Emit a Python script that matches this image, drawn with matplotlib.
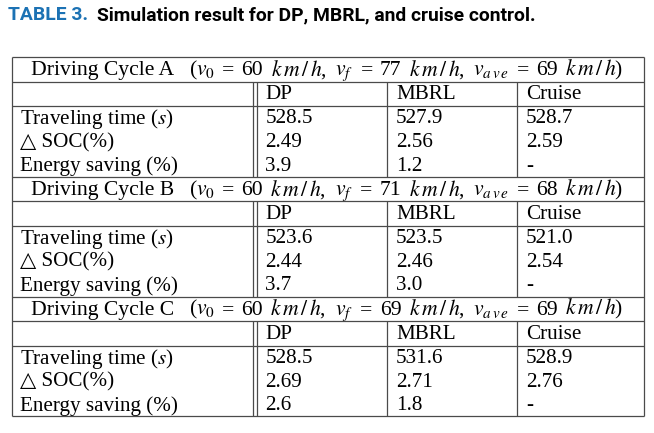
import matplotlib
matplotlib.use("Agg")
import matplotlib.pyplot as plt

plt.rcParams['mathtext.fontset'] = 'stix'
plt.rcParams['font.family'] = ['Liberation Serif', 'DejaVu Sans']

# ---- data ----
cycles = ['A', 'B', 'C']
v0 = [60, 60, 60]
vf = [77, 71, 69]
vave = [69, 68, 69]
methods = ['DP', 'MBRL', 'Cruise']
row_labels = ['Traveling time ($s$)', '\u25B3 SOC(%)', 'Energy saving (%)']
travel_time = [['528.5', '527.9', '528.7'],
               ['523.6', '523.5', '521.0'],
               ['528.5', '531.6', '528.9']]
delta_soc = [['2.49', '2.56', '2.59'],
             ['2.44', '2.46', '2.54'],
             ['2.69', '2.71', '2.76']]
energy_saving = [['3.9', '1.2', '-'],
                 ['3.7', '3.0', '-'],
                 ['2.6', '1.8', '-']]

W, H = 654, 433
fig = plt.figure(figsize=(W / 100, H / 100), dpi=100)
ax = fig.add_axes([0, 0, 1, 1])
ax.set_xlim(0, W)
ax.set_ylim(H, 0)
ax.axis('off')
fig.canvas.draw()
renderer = fig.canvas.get_renderer()

# title
title_font = ['Liberation Sans Narrow', 'Roboto', 'DejaVu Sans']
tfs = 13.9
t1 = ax.text(8, 15, 'TABLE 3.', color='#1c72b4', fontsize=tfs, fontweight='bold',
             family=title_font, va='center', ha='left')
bb = t1.get_window_extent(renderer)
ax.text(bb.x1 + 9, 15, 'Simulation result for DP, MBRL, and cruise control.',
        color='black', fontsize=tfs, fontweight='bold', family=title_font,
        va='center', ha='left')

# table geometry
xl, xr = 12, 644
xd1, xd2 = 253, 256.5
xc2, xc3 = 387, 517
top = 57
sec_h = 119.8
hdr_h = 24.6
data_h = (sec_h - 2 * hdr_h) / 3
lc = '#4a4a4a'
lw = 0.9
fs = 15.2
hfs = 15.6

KMH = r'$k\,m\,/\,h$'
hdr_left, hdr_right = 31, 623
for i, c in enumerate(cycles):
    y0 = top + i * sec_h
    y1 = y0 + hdr_h
    y2 = y1 + hdr_h
    y3 = y0 + sec_h
    for yy in (y0, y1, y2):
        ax.plot([xl, xr], [yy, yy], color=lc, lw=lw, solid_capstyle='butt')
    for xx in (xd1, xd2, xc2, xc3):
        ax.plot([xx, xx], [y1, y3], color=lc, lw=lw, solid_capstyle='butt')
    pieces = [f'Driving Cycle {c}', '($v_0$', '=', f'{v0[i]}', KMH + ',',
              '$v_f$', '=', f'{vf[i]}', KMH + ',',
              '$v_{a\\,v\\,e}$', '=', f'{vave[i]}', KMH + ')']
    base_gaps = [2.0, 1, 1, 1, 1.2, 1, 1, 1, 1.2, 1, 1, 1]
    yb = (y0 + y1) / 2 + 6
    arts = [ax.text(0, yb, p, fontsize=hfs, ha='left', va='baseline') for p in pieces]
    widths = [a.get_window_extent(renderer).width for a in arts]
    free = (hdr_right - hdr_left) - sum(widths)
    unit = free / sum(base_gaps)
    x = hdr_left
    for k, a in enumerate(arts):
        a.set_x(x)
        x += widths[k]
        if k < len(base_gaps):
            x += base_gaps[k] * unit
    for x, m in zip((xd2 + 9, xc2 + 9, xc3 + 9), methods):
        ax.text(x, (y1 + y2) / 2 + 1, m, fontsize=fs, ha='left', va='center')
    rows = [travel_time[i], delta_soc[i], energy_saving[i]]
    for r, (lab, vals) in enumerate(zip(row_labels, rows)):
        yc = y2 + (r + 0.5) * data_h + 1
        ax.text(20, yc, lab, fontsize=fs, ha='left', va='center')
        for x, v in zip((xd2 + 9, xc2 + 9, xc3 + 9), vals):
            ax.text(x, yc, v, fontsize=fs, ha='left', va='center')

bottom = top + 3 * sec_h
ax.plot([xl, xr], [bottom, bottom], color=lc, lw=lw, solid_capstyle='butt')
ax.plot([xl, xl], [top, bottom], color=lc, lw=lw, solid_capstyle='butt')
ax.plot([xr, xr], [top, bottom], color=lc, lw=lw, solid_capstyle='butt')

fig.savefig('out.png', dpi=100)
